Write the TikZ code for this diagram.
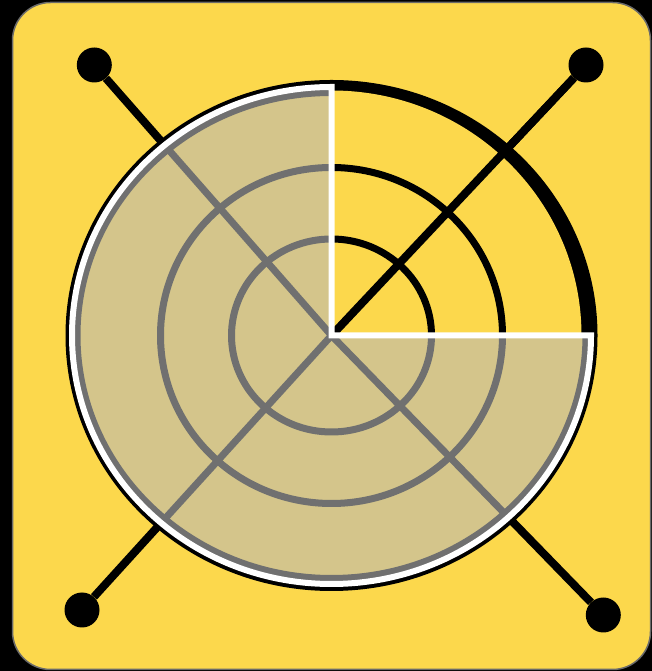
\documentclass[tikz,border=0pt]{standalone}
\definecolor{bgyellow}{HTML}{FCD84C}
\definecolor{sectortan}{HTML}{D4C58B}
\definecolor{ringgray}{HTML}{707070}
\definecolor{framegray}{HTML}{6A6A6A}
\tikzset{
  knob/.style={circle, fill=black, minimum size=35pt, inner sep=0pt},
  blackline/.style={draw=black, line width=8pt},
  blackring/.style={draw=black, line width=7pt},
  grayline/.style={draw=ringgray, line width=7pt},
  grayring/.style={draw=ringgray, line width=7pt},
}
\begin{document}
\begin{tikzpicture}[x=1pt,y=1pt]
\useasboundingbox (0,0) rectangle (652,671);
\fill[black] (0,0) rectangle (652,671);
\draw[fill=bgyellow, draw=framegray, line width=1.5pt, rounded corners=38pt] (12.5,1.5) rectangle (650.5,668.5);
\coordinate (c) at (331.5,335.5);
\node[knob] (tl) at (94.3,606) {};
\node[knob] (tr) at (586,606) {};
\node[knob] (bl) at (82,61) {};
\node[knob] (br) at (603.3,56) {};
\draw[blackline] (c) -- (tl);
\draw[blackline] (c) -- (tr);
\draw[blackline] (c) -- (bl);
\draw[blackline] (c) -- (br);
% wheel
\fill[black] (c) ellipse [x radius=266, y radius=255.5];
\fill[bgyellow] (c) ellipse [x radius=250, y radius=245];
\draw[blackring] (c) ellipse [x radius=100, y radius=96.5];
\draw[blackring] (c) ellipse [x radius=171, y radius=168];
\draw[blackline] (c) -- (tr);
% sector
\fill[sectortan] (c) -- ++(0,248.5) arc[start angle=90, end angle=360, x radius=259.5, y radius=248.5] -- cycle;
\begin{scope}
  \clip (c) -- ++(0,248.5) arc[start angle=90, end angle=360, x radius=259.5, y radius=248.5] -- cycle;
  \draw[grayring] (c) ellipse [x radius=100, y radius=96.5];
  \draw[grayring] (c) ellipse [x radius=171, y radius=168];
  \draw[grayring] (c) ellipse [x radius=254.5, y radius=243];
  \draw[grayline] (c) -- (tl);
  \draw[grayline] (c) -- (bl);
  \draw[grayline] (c) -- (br);
\end{scope}
\draw[white, line width=6pt, line join=miter] (c) -- ++(0,248.5) arc[start angle=90, end angle=360, x radius=259.5, y radius=248.5] -- cycle;
\end{tikzpicture}
\end{document}
